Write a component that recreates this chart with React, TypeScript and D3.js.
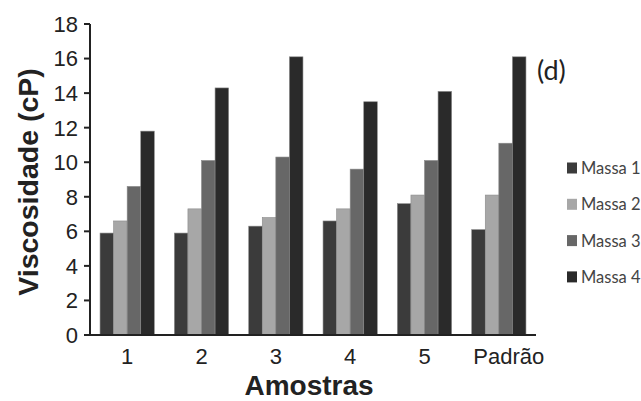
import React from "react";
import * as d3 from "d3";

// amostras e séries
const amostras = ["1", "2", "3", "4", "5", "Padrão"];
const series = ["Massa 1", "Massa 2", "Massa 3", "Massa 4"];
const massa1 = [5.9, 5.9, 6.3, 6.6, 7.6, 6.1];
const massa2 = [6.6, 7.3, 6.8, 7.3, 8.1, 8.1];
const massa3 = [8.6, 10.1, 10.3, 9.6, 10.1, 11.1];
const massa4 = [11.8, 14.3, 16.1, 13.5, 14.1, 16.1];
const yTicks = [0, 2, 4, 6, 8, 10, 12, 14, 16, 18];

const colors = ["#3b3b3b", "#a7a7a7", "#676767", "#2a2a2a"];
const values = [massa1, massa2, massa3, massa4];

const App = () => {
	const width = 641;
	const height = 401;
	const left = 90;
	const right = 536;
	const top = 24;
	const bottom = 335;

	const x = d3
		.scaleBand()
		.domain(amostras)
		.range([left, right])
		.paddingInner(0.27)
		.paddingOuter(0.135);
	const xInner = d3
		.scaleBand()
		.domain(series)
		.range([0, x.bandwidth()]);
	const y = d3.scaleLinear().domain([0, 18]).range([bottom, top]);

	const axisFont = "'Liberation Sans', Arial, sans-serif";
	const legendFont = "Lato, 'Open Sans', sans-serif";

	return (
		<svg
			width={width}
			height={height}
			style={{ position: "absolute", left: 0, top: 0, background: "#fff" }}
		>
			{/* barras */}
			{amostras.map((a, i) => (
				<g key={a} transform={`translate(${x(a)},0)`}>
					{series.map((s, j) => (
						<rect
							key={s}
							x={xInner(s)}
							y={y(values[j][i])}
							width={xInner.bandwidth()}
							height={bottom - y(values[j][i])}
							fill={colors[j]}
							stroke="#8a8a8a"
							strokeWidth={0.6}
						></rect>
					))}
				</g>
			))}

			{/* eixo y */}
			<line x1={left} x2={left} y1={top} y2={bottom} stroke="#222" strokeWidth={2}></line>
			{yTicks.map((t) => (
				<g key={t}>
					<line x1={left - 6} x2={left} y1={y(t)} y2={y(t)} stroke="#222" strokeWidth={2}></line>
					<text
						x={left - 12}
						y={y(t)}
						dy="0.36em"
						textAnchor="end"
						fontFamily={axisFont}
						fontSize={22}
						fill="#222"
					>
						{t}
					</text>
				</g>
			))}

			{/* eixo x */}
			<line x1={left - 6} x2={right} y1={bottom} y2={bottom} stroke="#222" strokeWidth={2}></line>
			{amostras.map((a) => (
				<text
					key={a}
					x={(x(a) ?? 0) + x.bandwidth() / 2}
					dx={a.length > 1 ? 10 : 0}
					y={364}
					textAnchor="middle"
					fontFamily={axisFont}
					fontSize={22}
					fill="#222"
				>
					{a}
				</text>
			))}

			<text
				x={309}
				y={395}
				textAnchor="middle"
				fontFamily={axisFont}
				fontSize={28}
				fontWeight="bold"
				fill="#222"
			>
				Amostras
			</text>
			<text
				transform={`translate(38,182) rotate(-90)`}
				textAnchor="middle"
				fontFamily={axisFont}
				fontSize={28.5}
				fontWeight="bold"
				fill="#222"
			>
				Viscosidade (cP)
			</text>

			<text x={537} y={80} fontFamily={legendFont} fontSize={27} fill="#222">
				(d)
			</text>

			{/* legenda */}
			{series.map((s, j) => (
				<g key={s} transform={`translate(567,${168 + j * 36.3})`}>
					<rect x={0} y={-5.5} width={10} height={11} fill={colors[j]}></rect>
					<text x={14} y={0} dy="0.36em" fontFamily={legendFont} fontSize={16.5} fill="#444">
						{s}
					</text>
				</g>
			))}
		</svg>
	);
};

export default App;
